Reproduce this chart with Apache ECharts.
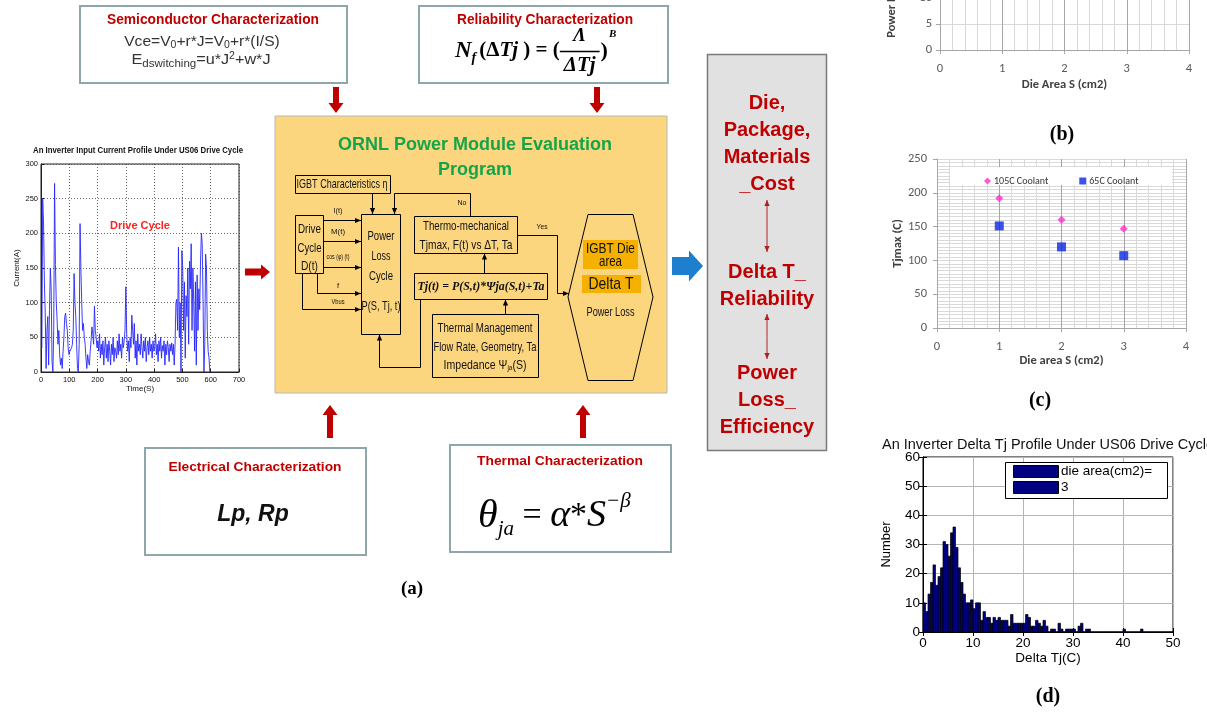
<!DOCTYPE html>
<html>
<head>
<meta charset="utf-8">
<script src="https://cdn.jsdelivr.net/npm/echarts@6/dist/echarts.min.js"></script>
<style>
  html, body { margin: 0; padding: 0; background: #ffffff; }
  #main { width: 1207px; height: 714px; }
</style>
</head>
<body>
<div id="main"></div>
<script>
// ---- Inverter input current over the US06 drive cycle (A), sampled every 3 s ----
const driveStep = 3;
const driveCurrent = [
  32, 35, 250, 215, 130, 85, 5, 60, 80, 10,
  90, 150, 120, 15, 0, 60, 272, 155, 100, 75,
  40, 60, 25, 10, 20, 5, 30, 50, 80, 85,
  70, 60, 35, 25, 30, 28, 35, 40, 60, 142,
  100, 80, 40, 5, 0, 40, 214, 150, 100, 60,
  70, 50, 40, 20, 5, 25, 15, 10, 30, 45,
  65, 55, 40, 95, 60, 50, 35, 45, 30, 55,
  20, 40, 25, 45, 10, 35, 50, 20, 40, 15,
  45, 30, 10, 40, 25, 50, 15, 35, 30, 20,
  45, 25, 55, 30, 40, 20, 50, 35, 45, 60,
  123, 55, 30, 45, 15, 50, 35, 82, 60, 40,
  70, 20, 45, 10, 55, 30, 40, 25, 55, 35,
  20, 45, 30, 50, 15, 35, 45, 25, 50, 30,
  40, 20, 45, 30, 35, 55, 25, 40, 15, 45,
  30, 50, 20, 38, 30, 45, 10, 40, 25, 45,
  35, 15, 40, 30, 42, 25, 40, 10, 40, 100,
  105, 60, 180, 50, 100, 0, 175, 150, 60, 130,
  20, 110, 80, 150, 40, 160, 120, 185, 60, 150,
  100, 30, 130, 10, 140, 60, 120, 90, 160, 200,
  185, 100, 0, 40, 170, 150, 60, 30, 20, 0
];

// ---- Tjmax vs die area for two coolant temperatures ----
const dieArea = [1, 2, 3];
const tjmax105C = [192, 160, 147];
const tjmax65C = [151, 120, 107];

// ---- Delta Tj histogram, die area 3 cm2 (bins of 0.5 C starting at 0) ----
const histBinWidth = 0.5;
const histCounts = [
  10, 7, 13, 17, 23, 16, 19, 22, 31, 30,
  26, 34, 36, 29, 22, 17, 13, 10, 10, 11,
  8, 10, 10, 4, 7, 5, 5, 3, 5, 4,
  5, 4, 4, 4, 2, 6, 3, 3, 3, 3,
  3, 6, 5, 2, 2, 4, 3, 2, 4, 2,
  0, 1, 1, 0, 3, 1, 0, 1, 1, 1,
  1, 0, 2, 3, 0, 1, 1, 0, 0, 0,
  0, 0, 0, 0, 0, 0, 0, 0, 0, 0,
  1, 0, 0, 0, 0, 0, 0, 1, 0, 0,
  0, 0, 0, 0, 0, 0, 0, 0, 0, 0
];

const driveData = driveCurrent.map((v, i) => [i * driveStep, v]);
const histData = histCounts.map((n, i) => [i * histBinWidth, n]);

const SANS = "'Liberation Sans', Arial, sans-serif";
const SERIF = "'Liberation Serif', 'Times New Roman', serif";
const CAL = "Carlito, Lato, 'Open Sans', sans-serif";
const RED = '#c00000';

// ---------- drawing helpers for the flow diagram ----------
const els = [];
const measureCtx = document.createElement('canvas').getContext('2d');
function tw(str, font) { measureCtx.font = font; return measureCtx.measureText(str).width; }

// text; when w is given the run is condensed horizontally to that width
function T(x, y, str, font, fill, align, w) {
  align = align || 'center';
  const sx = w ? w / tw(str, font) : 1;
  els.push({ type: 'text', x: x, y: y, scaleX: sx, silent: true, z: 20,
    style: { text: str, font: font, fill: fill || '#000',
      textAlign: align, align: align, textVerticalAlign: 'middle', verticalAlign: 'middle' } });
}
function seq(x, y, parts) {
  parts.forEach(p => {
    const s = p.s || 1;
    T(x, y + (p.dy || 0), p.t, p.f, p.fill || '#000', 'left', s !== 1 ? tw(p.t, p.f) * s : 0);
    x += tw(p.t, p.f) * s + (p.gap || 0);
  });
  return x;
}
function seqC(cx, y, parts) {
  const w = parts.reduce((a, p) => a + tw(p.t, p.f) * (p.s || 1) + (p.gap || 0), 0);
  return seq(cx - w / 2, y, parts);
}
function R(x, y, w, h, fill, stroke, lw, z) {
  els.push({ type: 'rect', silent: true, z: z == null ? 10 : z,
    shape: { x: x, y: y, width: w, height: h },
    style: { fill: fill || 'none', stroke: stroke || null, lineWidth: lw || 1 } });
}
function P(points, fill, z) {
  els.push({ type: 'polygon', silent: true, z: z == null ? 12 : z, shape: { points: points }, style: { fill: fill } });
}
function L(points, stroke, lw) {
  els.push({ type: 'polyline', silent: true, z: 15, shape: { points: points },
    style: { stroke: stroke || '#000', lineWidth: lw || 1, fill: null } });
}
// thin connector ending in a small filled arrow head
function A(points, color) {
  color = color || '#000';
  L(points, color, 1);
  const [x1, y1] = points[points.length - 1];
  const [x0, y0] = points[points.length - 2];
  const ang = Math.atan2(y1 - y0, x1 - x0), len = 6, half = 2.6;
  const bx = x1 - Math.cos(ang) * len, by = y1 - Math.sin(ang) * len;
  P([[x1, y1], [bx - Math.sin(ang) * half, by + Math.cos(ang) * half],
     [bx + Math.sin(ang) * half, by - Math.cos(ang) * half]], color, 16);
}
function A2(x, y0, y1, color) {
  A([[x, (y0 + y1) / 2], [x, y0]], color);
  A([[x, (y0 + y1) / 2], [x, y1]], color);
}
// thick block arrows
function blockDown(cx, y0, y1, color) {
  P([[cx - 3, y0], [cx + 3, y0], [cx + 3, y1 - 10], [cx + 7.5, y1 - 10], [cx, y1], [cx - 7.5, y1 - 10], [cx - 3, y1 - 10]], color);
}
function blockUp(cx, y0, y1, color) {
  P([[cx - 3, y0], [cx + 3, y0], [cx + 3, y1 + 10], [cx + 7.5, y1 + 10], [cx, y1], [cx - 7.5, y1 + 10], [cx - 3, y1 + 10]], color);
}
function blockRight(x0, x1, cy, sh, hh, hl, color) {
  P([[x0, cy - sh], [x1 - hl, cy - sh], [x1 - hl, cy - hh], [x1, cy], [x1 - hl, cy + hh], [x1 - hl, cy + sh], [x0, cy + sh]], color);
}

// ---------- characterization boxes ----------
const boxStroke = '#8fa6ab';
const FG = '#333';
R(80, 6, 267, 77, '#fff', boxStroke, 2);
T(213, 20, 'Semiconductor Characterization', 'bold 14px ' + SANS, RED, 'center', 212);
seqC(202, 42, [
  { t: 'Vce=V', f: '15px ' + SANS, fill: FG, s: 1.04 }, { t: '0', f: '10.5px ' + SANS, dy: 3, fill: FG },
  { t: '+r*J=V', f: '15px ' + SANS, fill: FG, s: 1.04 }, { t: '0', f: '10.5px ' + SANS, dy: 3, fill: FG },
  { t: '+r*(I/S)', f: '15px ' + SANS, fill: FG, s: 1.04 }
]);
seqC(201, 60, [
  { t: 'E', f: '15px ' + SANS, fill: FG, s: 1.08 }, { t: 'dswitching', f: '11px ' + SANS, dy: 4, fill: FG, s: 1.05 },
  { t: '=u*J', f: '15px ' + SANS, fill: FG, s: 1.08 }, { t: '2', f: '10.5px ' + SANS, dy: -4, fill: FG },
  { t: '+w*J', f: '15px ' + SANS, fill: FG, s: 1.08 }
]);

R(419, 6, 249, 77, '#fff', boxStroke, 2);
T(545, 20, 'Reliability Characterization', 'bold 14px ' + SANS, RED, 'center', 176);
(function () {
  let x = seq(455, 51, [
    { t: 'N', f: 'bold italic 23px ' + SERIF }, { t: 'f', f: 'bold italic 14px ' + SERIF, dy: 7, gap: 3 },
    { t: '(Δ', f: 'bold 21px ' + SERIF }, { t: 'Tj', f: 'bold italic 21px ' + SERIF },
    { t: ' ) = (', f: 'bold 21px ' + SERIF }
  ]);
  const denF = 'bold italic 21px ' + SERIF;
  const fw = tw('ΔTj', denF) + 8;
  T(x + fw / 2, 36, 'Λ', 'bold italic 19px ' + SERIF);
  L([[x, 51.5], [x + fw, 51.5]], '#000', 1.3);
  T(x + fw / 2, 66, 'ΔTj', denF);
  x += fw + 1;
  x = seq(x, 51, [{ t: ')', f: 'bold 22px ' + SERIF }]);
  T(x + 1, 34, 'B', 'bold italic 11px ' + SERIF, '#000', 'left');
})();

R(145, 448, 221, 107, '#fff', boxStroke, 2);
T(255, 467, 'Electrical Characterization', 'bold 13.5px ' + SANS, RED, 'center', 173);
T(253, 515, 'Lp, Rp', 'bold italic 23px ' + SANS, '#111');

R(450, 445, 221, 107, '#fff', boxStroke, 2);
T(560, 461, 'Thermal Characterization', 'bold 13.5px ' + SANS, RED, 'center', 166);
seq(478, 516, [
  { t: 'θ', f: 'italic 40px ' + SERIF }, { t: 'ja', f: 'italic 21px ' + SERIF, dy: 13 },
  { t: ' = ', f: '34px ' + SERIF }, { t: 'α', f: 'italic 38px ' + SERIF },
  { t: '*', f: '34px ' + SERIF }, { t: 'S', f: 'italic 38px ' + SERIF },
  { t: '−β', f: 'italic 21px ' + SERIF, dy: -15 }
]);
T(412, 589, '(a)', 'bold 19px ' + SERIF);

// red feed arrows into the evaluation program
blockDown(336, 87, 113, RED);
blockDown(597, 87, 113, RED);
blockUp(330, 438, 405, RED);
blockUp(583, 438, 405, RED);
blockRight(245, 270, 272, 3.5, 7.5, 9, RED);

// ---------- evaluation program panel ----------
R(275, 116, 392, 277, '#fcd67e', '#b8b8b8', 1, 5);
T(475, 145, 'ORNL Power Module Evaluation', 'bold 18px ' + SANS, '#16a44a');
T(475, 170, 'Program', 'bold 18px ' + SANS, '#16a44a');

const BF = '13.5px ' + SANS;
const INK = '#111';
R(295.5, 175.5, 95, 18, null, '#000', 1);
T(342, 184.5, 'IGBT Characteristics η', BF, INK, 'center', 91);

R(295.5, 215.5, 28, 58, null, '#000', 1);
T(309.5, 229, 'Drive', BF, INK, 'center', 23);
T(309.5, 248, 'Cycle', BF, INK, 'center', 24);
T(309.5, 266, 'D(t)', BF, INK, 'center', 17);

R(361.5, 214.5, 39, 120, null, '#000', 1);
T(381, 236, 'Power', BF, INK, 'center', 27);
T(381, 256, 'Loss', BF, INK, 'center', 19);
T(381, 276, 'Cycle', BF, INK, 'center', 24);
T(381, 306, 'P(S, Tj, t)', BF, INK, 'center', 39);

const SF = '7.5px ' + SANS;
T(338, 211, 'I(t)', SF, INK, 'center', 9); A([[323, 220.5], [361, 220.5]]);
T(338, 232, 'M(t)', SF, INK, 'center', 14); A([[323, 241.5], [361, 241.5]]);
T(338, 257, 'cos (φ) (t)', SF, INK, 'center', 23); A([[323, 267.5], [361, 267.5]]);
T(338, 286, 'f', SF, INK); A([[317.5, 273], [317.5, 293.5], [361, 293.5]]);
T(338, 302, 'Vbus', SF, INK, 'center', 13); A([[302.5, 273], [302.5, 309.5], [361, 309.5]]);
A([[372.5, 193], [372.5, 214]]);

R(414.5, 216.5, 103, 37, null, '#000', 1);
T(466, 226, 'Thermo-mechanical', BF, INK, 'center', 86);
T(466, 245, 'Tjmax, F(t) vs ΔT, Ta', BF, INK, 'center', 93);
A([[470.5, 216], [470.5, 193.5], [394.5, 193.5], [394.5, 214]]);
T(462, 203, 'No', '8px ' + SANS, INK, 'center', 9);
A([[517, 235.5], [557.5, 235.5], [557.5, 293.5], [569, 293.5]]);
T(542, 227, 'Yes', '8px ' + SANS, INK, 'center', 11);

R(414.5, 273.5, 133, 26, null, '#000', 1);
T(481, 286.5, 'Tj(t) = P(S,t)*Ψja(S,t)+Ta', 'bold italic 13px ' + SERIF, INK, 'center', 127);
A([[484.5, 273], [484.5, 253.5]]);

R(432.5, 314.5, 106, 63, null, '#000', 1);
T(485, 328, 'Thermal Management', BF, INK, 'center', 95);
T(485, 347, 'Flow Rate, Geometry, Ta', BF, INK, 'center', 103);
seqC(485, 365, [
  { t: 'Impedance Ψ', f: BF, fill: INK, s: 0.78 }, { t: 'ja', f: '8px ' + SANS, dy: 3, fill: INK, s: 0.8 },
  { t: '(S)', f: BF, fill: INK, s: 0.78 }
]);
A([[505.5, 314], [505.5, 299.5]]);
A([[420.5, 299.5], [420.5, 367.5], [379.5, 367.5], [379.5, 334.5]]);

L([[588, 214.5], [633, 214.5], [653, 297], [633, 380.5], [588, 380.5], [568, 297], [588, 214.5]], '#000', 1);
R(583, 240, 55, 29, '#f6b100', null, 1, 14);
T(610.5, 249, 'IGBT Die', '14.5px ' + SANS, INK, 'center', 49);
T(610.5, 262, 'area', '14.5px ' + SANS, INK, 'center', 23);
R(582, 275, 59, 18, '#f6b100', null, 1, 14);
T(611, 284.5, 'Delta T', '17px ' + SANS, INK, 'center', 45);
T(610.5, 312, 'Power Loss', BF, INK, 'center', 48);

// ---------- blue output arrow and trade-off panel ----------
blockRight(672, 703, 266, 9, 15.5, 14, '#1f7fcf');
R(707.5, 54.5, 119, 396, '#e1e1e1', '#7a7a7a', 1.5, 5);
const OF = 'bold 20px ' + SANS;
T(767, 103, 'Die,', OF, RED);
T(767, 130, 'Package,', OF, RED);
T(767, 157, 'Materials', OF, RED);
T(767, 184, '_Cost', OF, RED);
A2(767, 200, 252, '#b02020');
T(767, 272, 'Delta T_', OF, RED);
T(767, 299, 'Reliability', OF, RED);
A2(767, 314, 359, '#b02020');
T(767, 373, 'Power', OF, RED);
T(767, 400, 'Loss_', OF, RED);
T(767, 427, 'Efficiency', OF, RED);

// ---------- chart titles, panel letters and legends ----------
T(138, 151, 'An Inverter Input Current Profile Under US06 Drive Cycle', 'bold 9px ' + SANS, '#111', 'center', 210);
T(140, 226, 'Drive Cycle', 'bold 11px ' + SANS, '#ff2020');
T(1062, 135, '(b)', 'bold 20px ' + SERIF);
T(1040, 401, '(c)', 'bold 20px ' + SERIF);
T(1048, 445, 'An Inverter Delta Tj Profile Under US06 Drive Cycle', '14.5px ' + SANS, '#111');
T(1048, 697, '(d)', 'bold 20px ' + SERIF);

R(950, 167, 222, 18, '#ffffff', null, 1, 3);

R(1005.5, 462.5, 162, 36, '#ffffff', '#000', 1, 6);
R(1013.5, 465.5, 45, 12, '#000080', '#000', 1, 7);
R(1013.5, 481.5, 45, 12, '#000080', '#000', 1, 7);
T(1061, 471.5, 'die area(cm2)=', '13.5px ' + SANS, '#000', 'left');
T(1061, 487.5, '3', '13.5px ' + SANS, '#000', 'left');

// ---------- axes ----------
const dotted = { show: true, lineStyle: { color: '#444', type: [1, 2], width: 0.8 } };
const xlGray = { color: '#595959', fontSize: 12.5, fontFamily: CAL };

const option = {
  animation: false,
  backgroundColor: '#ffffff',
  graphic: { elements: els },
  legend: {
    left: 979, top: 171, itemWidth: 7, itemHeight: 7, itemGap: 31, selectedMode: false, z: 6,
    textStyle: { fontSize: 10, color: '#333', fontFamily: CAL, padding: [0, 0, 0, -2] },
    data: [{ name: '105C Coolant', icon: 'diamond' }, { name: '65C Coolant', icon: 'rect' }]
  },
  grid: [
    { left: 41, top: 164, width: 198, height: 208, show: true, borderColor: '#222', borderWidth: 1,
      backgroundColor: 'transparent', outerBoundsMode: 'none', containLabel: false },
    { left: 940, top: -54, width: 249, height: 104, outerBoundsMode: 'none', containLabel: false },
    { left: 937, top: 159, width: 249, height: 169, outerBoundsMode: 'none', containLabel: false },
    { left: 923, top: 457, width: 250, height: 175, show: true, borderColor: '#000', borderWidth: 1,
      backgroundColor: '#fff', outerBoundsMode: 'none', containLabel: false }
  ],
  xAxis: [
    { gridIndex: 0, type: 'value', min: 0, max: 700, interval: 100,
      axisLine: { lineStyle: { color: '#222' } }, axisTick: { inside: true, length: 3, lineStyle: { color: '#222' } },
      axisLabel: { fontSize: 7.5, color: '#111', margin: 4, fontFamily: SANS },
      splitLine: dotted,
      name: 'Time(S)', nameLocation: 'middle', nameGap: 13, nameTextStyle: { fontSize: 8, color: '#111', fontFamily: SANS } },
    { gridIndex: 1, type: 'value', min: 0, max: 4, interval: 1,
      axisLine: { lineStyle: { color: '#a6a6a6' } }, axisTick: { show: true, length: 4, lineStyle: { color: '#a6a6a6' } },
      axisLabel: Object.assign({ margin: 12 }, xlGray),
      splitLine: { show: true, lineStyle: { color: '#a6a6a6', width: 1 } },
      minorTick: { show: false, splitNumber: 5 },
      minorSplitLine: { show: true, lineStyle: { color: '#d9d9d9', width: 1 } },
      name: 'Die Area S (cm2)', nameLocation: 'middle', nameGap: 28,
      nameTextStyle: { fontSize: 12.5, fontWeight: 'bold', color: '#404040', fontFamily: CAL } },
    { gridIndex: 2, type: 'value', min: 0, max: 4, interval: 1,
      axisLine: { lineStyle: { color: '#a6a6a6' } }, axisTick: { show: true, length: 4, lineStyle: { color: '#a6a6a6' } },
      axisLabel: Object.assign({ margin: 12 }, xlGray),
      splitLine: { show: true, lineStyle: { color: '#a6a6a6', width: 1 } },
      minorTick: { show: false, splitNumber: 5 },
      minorSplitLine: { show: true, lineStyle: { color: '#d9d9d9', width: 1 } },
      name: 'Die area S (cm2)', nameLocation: 'middle', nameGap: 25,
      nameTextStyle: { fontSize: 12.5, fontWeight: 'bold', color: '#404040', fontFamily: CAL } },
    { gridIndex: 3, type: 'value', min: 0, max: 50, interval: 10,
      axisLine: { lineStyle: { color: '#000' } }, axisTick: { inside: true, length: 4, lineStyle: { color: '#000' } },
      axisLabel: { fontSize: 13.5, color: '#000', margin: 4, fontFamily: SANS },
      splitLine: { show: true, lineStyle: { color: '#b5b5b5', width: 1 } },
      name: 'Delta Tj(C)', nameLocation: 'middle', nameGap: 19, nameTextStyle: { fontSize: 13.5, color: '#000', fontFamily: SANS } },
    { gridIndex: 3, type: 'value', position: 'top', min: 0, max: 50, interval: 10,
      axisLine: { lineStyle: { color: '#000' } }, axisTick: { inside: true, length: 4, lineStyle: { color: '#000' } },
      axisLabel: { show: false }, splitLine: { show: false } }
  ],
  yAxis: [
    { gridIndex: 0, type: 'value', min: 0, max: 300, interval: 50,
      axisLine: { show: true, lineStyle: { color: '#222' } }, axisTick: { show: true, inside: true, length: 3, lineStyle: { color: '#222' } },
      axisLabel: { fontSize: 7.5, color: '#111', margin: 3, fontFamily: SANS },
      splitLine: dotted,
      name: 'Current(A)', nameLocation: 'middle', nameGap: 20, nameTextStyle: { fontSize: 8, color: '#111', fontFamily: SANS } },
    { gridIndex: 1, type: 'value', min: 0, max: 20, interval: 5,
      axisLine: { show: true, lineStyle: { color: '#a6a6a6' } }, axisTick: { show: true, length: 4, lineStyle: { color: '#a6a6a6' } },
      axisLabel: Object.assign({ margin: 8 }, xlGray),
      splitLine: { show: true, lineStyle: { color: '#d9d9d9', width: 1 } },
      name: 'Power Loss (W)', nameLocation: 'middle', nameGap: 42,
      nameTextStyle: { fontSize: 12.5, fontWeight: 'bold', color: '#404040', fontFamily: CAL } },
    { gridIndex: 2, type: 'value', min: 0, max: 250, interval: 50,
      axisLine: { show: true, lineStyle: { color: '#a6a6a6' } }, axisTick: { show: true, length: 4, lineStyle: { color: '#a6a6a6' } },
      axisLabel: Object.assign({ margin: 10 }, xlGray),
      splitLine: { show: true, lineStyle: { color: '#d9d9d9', width: 1 } },
      minorTick: { show: false, splitNumber: 10 },
      minorSplitLine: { show: true, lineStyle: { color: '#d9d9d9', width: 1 } },
      name: 'Tjmax (C)', nameLocation: 'middle', nameGap: 33,
      nameTextStyle: { fontSize: 12.5, fontWeight: 'bold', color: '#404040', fontFamily: CAL } },
    { gridIndex: 3, type: 'value', min: 0, max: 60, interval: 10,
      axisLine: { show: true, lineStyle: { color: '#000' } }, axisTick: { show: true, inside: true, length: 4, lineStyle: { color: '#000' } },
      axisLabel: { fontSize: 13.5, color: '#000', margin: 3, fontFamily: SANS },
      splitLine: { show: true, lineStyle: { color: '#b5b5b5', width: 1 } },
      name: 'Number', nameLocation: 'middle', nameGap: 30, nameTextStyle: { fontSize: 13, color: '#000', fontFamily: SANS } },
    { gridIndex: 3, type: 'value', position: 'right', min: 0, max: 60, interval: 10,
      axisLine: { show: true, lineStyle: { color: '#000' } }, axisTick: { show: true, inside: true, length: 4, lineStyle: { color: '#000' } },
      axisLabel: { show: false }, splitLine: { show: false } }
  ],
  series: [
    { type: 'line', name: 'Input current', xAxisIndex: 0, yAxisIndex: 0, data: driveData,
      showSymbol: false, lineStyle: { color: '#2626ff', width: 0.9 }, z: 3 },
    { type: 'scatter', name: '105C Coolant', xAxisIndex: 2, yAxisIndex: 2,
      data: dieArea.map((s, i) => [s, tjmax105C[i]]), symbol: 'diamond', symbolSize: 8,
      itemStyle: { color: '#ff2fd0' } },
    { type: 'scatter', name: '65C Coolant', xAxisIndex: 2, yAxisIndex: 2,
      data: dieArea.map((s, i) => [s, tjmax65C[i]]), symbol: 'rect', symbolSize: 9,
      itemStyle: { color: '#0a28e6' } },
    { type: 'custom', name: 'die area(cm2)= 3', xAxisIndex: 3, yAxisIndex: 3, data: histData, z: 3,
      renderItem: function (params, api) {
        const x0 = api.value(0), n = api.value(1);
        const p0 = api.coord([x0, 0]);
        const p1 = api.coord([x0 + histBinWidth, n]);
        return { type: 'rect', shape: { x: p0[0], y: p1[1], width: p1[0] - p0[0], height: p0[1] - p1[1] },
          style: { fill: '#000080', stroke: '#000', lineWidth: 0.7 } };
      } }
  ]
};

const chart = echarts.init(document.getElementById('main'), null, { renderer: 'canvas' });
chart.setOption(option);
</script>
</body>
</html>
